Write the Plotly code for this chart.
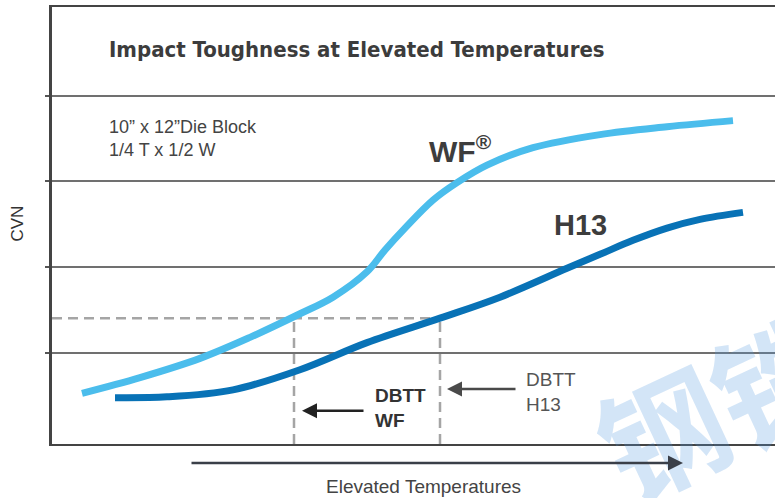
import plotly.graph_objects as go

# ---- data (x: relative temperature index, y: CVN relative units) ----
wf_x = [30, 88, 148, 198, 248, 281, 315, 333, 353, 381, 405, 435, 481, 548, 615, 681]
wf_y = [0.58, 0.76, 0.98, 1.22, 1.49, 1.68, 1.97, 2.22, 2.47, 2.79, 2.99, 3.19, 3.39, 3.54, 3.63, 3.70]

h13_x = [63, 115, 181, 248, 315, 388, 448, 515, 548, 581, 615, 648, 691]
h13_y = [0.53, 0.54, 0.62, 0.85, 1.16, 1.44, 1.68, 2.01, 2.17, 2.33, 2.47, 2.57, 2.65]

dbtt_cvn = 1.44
dbtt_wf_x = 242
dbtt_h13_x = 388

grid_vals = [1.04, 2.03, 3.01, 3.98]

x_range = [0, 723]
y_range = [0, 5]

title_text = "Impact Toughness at Elevated Temperatures"
note_text = "10” x 12”Die Block<br>1/4 T x 1/2 W"

fig = go.Figure()

dash_style = dict(color="#a5a5a5", width=2.5, dash="10px,6px")
# DBTT dashed guides
fig.add_trace(go.Scatter(x=[0, dbtt_h13_x], y=[dbtt_cvn, dbtt_cvn], mode="lines",
                         line=dash_style, hoverinfo="skip", showlegend=False))
fig.add_trace(go.Scatter(x=[dbtt_wf_x, dbtt_wf_x], y=[0, dbtt_cvn], mode="lines",
                         line=dash_style, hoverinfo="skip", showlegend=False))
fig.add_trace(go.Scatter(x=[dbtt_h13_x, dbtt_h13_x], y=[0, dbtt_cvn], mode="lines",
                         line=dash_style, hoverinfo="skip", showlegend=False))

# Curves
fig.add_trace(go.Scatter(x=wf_x, y=wf_y, mode="lines", name="WF",
                         line=dict(color="#4bbdec", width=7, shape="spline", smoothing=1.0),
                         showlegend=False))
fig.add_trace(go.Scatter(x=h13_x, y=h13_y, mode="lines", name="H13",
                         line=dict(color="#0872b6", width=7, shape="spline", smoothing=1.0),
                         showlegend=False))

ann = []
# watermark (behind other annotations)
ann.append(dict(x=0.92, y=0.096, xref="paper", yref="paper", text="<b>钢铁</b>", showarrow=False,
                textangle=-25, xanchor="center", yanchor="middle",
                font=dict(family="Noto Sans CJK SC", size=125, color="rgba(80,150,225,0.25)")))
# title
ann.append(dict(x=55, y=4.51, xref="x", yref="y", text="<b>" + title_text + "</b>",
                showarrow=False, xanchor="left", yanchor="middle",
                font=dict(family="DejaVu Sans Condensed, Arial", size=22, color="#3c3c3c")))
ann.append(dict(x=55, y=3.50, xref="x", yref="y", text=note_text, showarrow=False,
                xanchor="left", yanchor="middle", align="left",
                font=dict(family="Liberation Sans, Arial", size=18, color="#444444")))
ann.append(dict(x=375, y=3.37, xref="x", yref="y", text="<b>WF<sup>®</sup></b>", showarrow=False,
                xanchor="left", yanchor="middle",
                font=dict(family="Liberation Sans, Arial", size=30, color="#3d3d3d")))
ann.append(dict(x=500, y=2.51, xref="x", yref="y", text="<b>H13</b>", showarrow=False,
                xanchor="left", yanchor="middle",
                font=dict(family="Liberation Sans, Arial", size=29, color="#3d3d3d")))
ann.append(dict(x=321, y=0.41, xref="x", yref="y", text="<b>DBTT<br>WF</b>", showarrow=False,
                xanchor="left", yanchor="middle", align="left",
                font=dict(family="Liberation Sans, Arial", size=19, color="#333333")))
ann.append(dict(x=472, y=0.60, xref="x", yref="y", text="DBTT<br>H13", showarrow=False,
                xanchor="left", yanchor="middle", align="left",
                font=dict(family="Liberation Sans, Arial", size=19, color="#555555")))
# axis titles
ann.append(dict(x=-0.048, y=0.505, xref="paper", yref="paper", text="CVN", showarrow=False,
                textangle=-90, xanchor="center", yanchor="middle",
                font=dict(family="Liberation Sans, Arial", size=17, color="#333333")))
ann.append(dict(x=371, y=-0.098, xref="x", yref="paper", text="Elevated Temperatures", showarrow=False,
                xanchor="center", yanchor="middle",
                font=dict(family="Liberation Sans, Arial", size=19, color="#444444")))
# arrows
ann.append(dict(x=250, y=0.38, xref="x", yref="y", ax=313, ay=0.38, axref="x", ayref="y",
                text="", showarrow=True, arrowhead=2, arrowsize=1.2, arrowwidth=2.5,
                arrowcolor="#222222"))
ann.append(dict(x=395, y=0.63, xref="x", yref="y", ax=465, ay=0.63, axref="x", ayref="y",
                text="", showarrow=True, arrowhead=2, arrowsize=1.2, arrowwidth=2.5,
                arrowcolor="#4a4a4a"))
ann.append(dict(x=631, y=-0.0435, xref="x", yref="paper", ax=138, ay=0, axref="x", ayref="pixel",
                text="", showarrow=True, arrowhead=2, arrowsize=1.2, arrowwidth=2.5,
                arrowcolor="#3a3f48"))

fig.update_layout(
    width=775, height=498,
    margin=dict(l=52, r=0, t=7, b=54),
    paper_bgcolor="white", plot_bgcolor="white",
    annotations=ann,
    xaxis=dict(range=x_range, showgrid=False, zeroline=False, showticklabels=False,
               showline=True, linecolor="#444444", linewidth=2, mirror=True, ticks=""),
    yaxis=dict(range=y_range, tickvals=grid_vals, showgrid=True, gridcolor="#707070", gridwidth=1.5,
               zeroline=False, showticklabels=False, showline=True, linecolor="#444444",
               linewidth=2.5, ticks="outside", ticklen=4, tickcolor="#555555", tickwidth=1.5),
)

fig.write_html("out.html", config={"displayModeBar": False},
               post_script="document.body.style.margin='0';")
